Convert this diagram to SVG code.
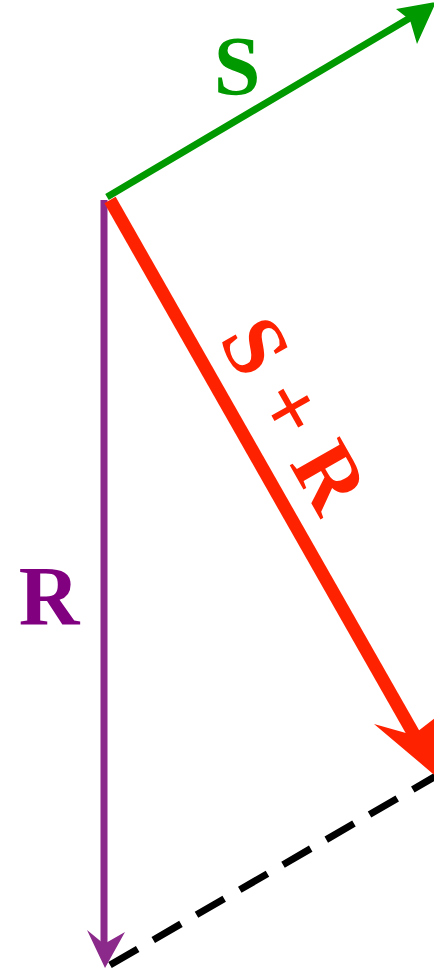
<svg xmlns="http://www.w3.org/2000/svg" width="434" height="971" viewBox="0 0 434 971">
<style>
.lbl{font-family:"Liberation Serif","Times New Roman",Times,serif;font-weight:bold;font-size:84px}
.sr{font-size:88px}
</style>
<rect width="434" height="971" fill="#fff"/>
<g id="connectors">
<path id="dashed" d="M110,965 L436,776" stroke="#000" stroke-width="7" stroke-dasharray="32,18" fill="none"/>
<g id="vec-S">
<line x1="107" y1="197" x2="420" y2="12" stroke="#009900" stroke-width="7"/>
<path d="M436,2 L396,9 L410,20 L417,44 Z" fill="#009900"/>
</g>
<g id="vec-R">
<line x1="104" y1="200" x2="104" y2="950" stroke="#8b2a8b" stroke-width="7"/>
<path d="M105,968 L87,930 L104,944 L125,932 Z" fill="#8b2a8b"/>
</g>
<g id="vec-SR">
<line x1="110" y1="200" x2="420" y2="745" stroke="#ff2200" stroke-width="13"/>
<path d="M438,778 L374,724 L413,735 L448,708 Z" fill="#ff2200"/>
</g>
</g>
<g id="label-S"><text class="lbl" x="237" y="95" fill="#009900" text-anchor="middle">S</text></g>
<g id="label-R"><text class="lbl" x="49" y="625" fill="#800080" text-anchor="middle">R</text></g>
<g id="label-SR"><text class="lbl sr" x="269" y="429" fill="#ff2200" text-anchor="middle" transform="rotate(60.4 269 429)">S + R</text></g>
</svg>
